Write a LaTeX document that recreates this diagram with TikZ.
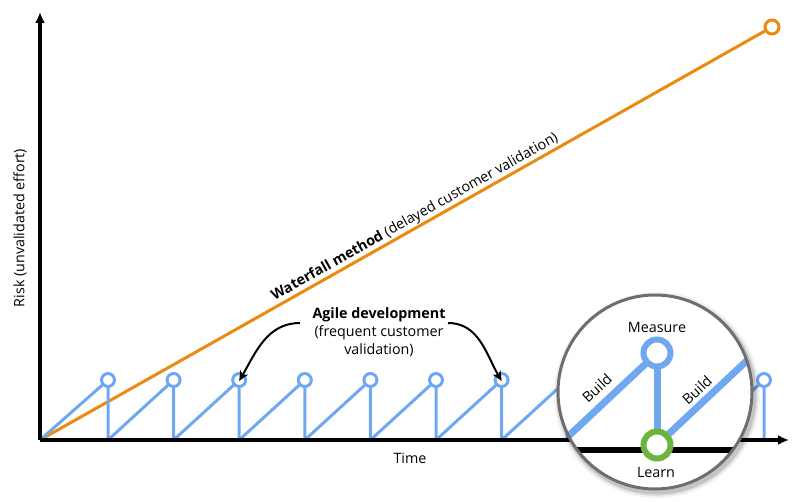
\documentclass[tikz,border=0pt]{standalone}
\usepackage{fontspec}
\setmainfont{Open Sans}
\usetikzlibrary{arrows.meta}
\definecolor{agileblue}{HTML}{6FA8F0}
\definecolor{wforange}{HTML}{EA8A12}
\definecolor{learngreen}{HTML}{6DB33F}
\definecolor{lensgray}{HTML}{6E6E6E}
\tikzset{
  axis/.style={line width=4pt, -{Latex[length=11pt,width=10pt]}},
  txt/.style={font=\fontsize{14.3}{18}\selectfont, inner sep=1pt},
  tooth/.style={agileblue, line width=3pt, line join=round},
  peak/.style={circle, draw=agileblue, fill=white, line width=3pt, minimum size=13pt, inner sep=0pt},
  bigpeak/.style={circle, draw=agileblue, fill=white, line width=6pt, minimum size=27pt, inner sep=0pt},
  learnnode/.style={circle, draw=learngreen, fill=white, line width=6pt, minimum size=27pt, inner sep=0pt},
  bigtooth/.style={agileblue, line width=7pt},
  curved/.style={line width=2pt, -{Stealth[length=10pt,width=9pt]}},
}
\begin{document}
\begin{tikzpicture}[x=1pt,y=-1pt]
\useasboundingbox (0,0) rectangle (800,502);
% axes
\coordinate (O) at (40,440);
\coordinate (ytop) at (40,12);
\coordinate (xend) at (789,440);
% waterfall
\node[circle, draw=wforange, fill=white, line width=3pt, minimum size=14pt, inner sep=0pt] (wf) at (772,27) {};
\draw[wforange, line width=3pt] (O) -- (wf)
  node[pos=0.524, sloped, above, inner sep=3pt, txt, text=black] (wftext) {\textbf{Waterfall method} (delayed customer validation)};
% agile teeth
\foreach \k in {0,...,10} {
  \coordinate (p\k) at ({108+65.6*\k},380);
  \coordinate (b\k) at ({108+65.6*\k},440);
}
\draw[tooth] (O) -- (p0) -- (b0) -- (p1) -- (b1) -- (p2) -- (b2) -- (p3) -- (b3) -- (p4) -- (b4) -- (p5) -- (b5) -- (p6) -- (b6) -- (p7) -- (b7) -- (p8) -- (b8) -- (p9) -- (b9) -- (p10) -- (b10);
\foreach \k in {0,...,10} { \node[peak] (c\k) at (p\k) {}; }
\draw[axis] (O) -- (xend);
\draw[axis] (O) -- (ytop);
% axis labels
\node[txt, rotate=90] (ylab) at (20,228) {Risk (unvalidated effort)};
\node[txt] (xlab) at (410,458) {Time};
% agile label
\node[txt, align=center] (agile) at (379,332) {\textbf{Agile development}\\(frequent customer\\validation)};
\coordinate (la) at (300,323);
\coordinate (ra) at (448,323);
\draw[curved] (la) to[out=180, in=60] ([yshift=-9pt]c2.north);
\draw[curved] (ra) to[out=0, in=120] ([yshift=-9pt]c6.north);
% magnifier
\coordinate (lc) at (655,392);
\foreach \r/\o in {103/0.05,101/0.08,99.5/0.12} {
  \fill[black, opacity=\o] ([shift={(2,3)}]lc) circle (\r);
}
\fill[white] (lc) circle (97);
\begin{scope}
  \clip (lc) circle (97);
  \draw[black, line width=6pt] (540,450) -- (770,450);
  \coordinate (bm) at (657,353);
  \coordinate (bl) at (657,445);
  \draw[bigtooth] (559,445) -- (bm);
  \draw[bigtooth] (bl) -- (755,353);
  \draw[bigtooth] (bm) -- (bl);
  \node[bigpeak] (measure) at (bm) {};
  \node[learnnode] (learn) at (bl) {};
  \node[txt, rotate=43] (build1) at (597,388) {Build};
  \node[txt, rotate=43] (build2) at (697,390) {Build};
  \node[txt] (measuretxt) at (657,327) {Measure};
  \node[txt] (learntxt) at (656,472) {Learn};
\end{scope}
\draw[lensgray, line width=3pt] (lc) circle (97);
\end{tikzpicture}
\end{document}
